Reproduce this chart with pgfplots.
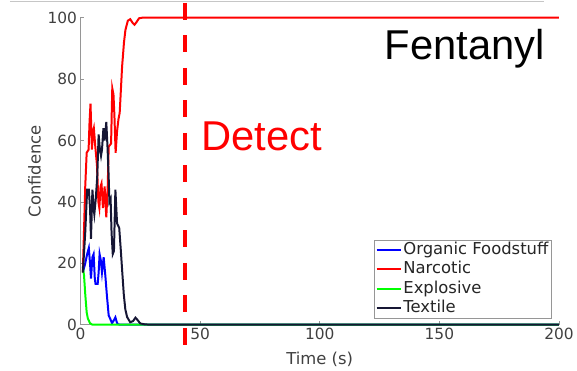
\documentclass[border=0pt]{standalone}
\usepackage{fontspec}
\setmainfont{DejaVu Sans}
\newfontfamily\arialfont{Liberation Sans}
\usepackage{pgfplots}
\pgfplotsset{compat=1.18}
\definecolor{textile}{RGB}{22,22,52}
\definecolor{axgray}{RGB}{150,150,150}
\definecolor{lblgray}{RGB}{64,64,64}
\begin{document}
\begin{tikzpicture}
\begin{axis}[
  at={(0,0)}, anchor=south west,
  scale only axis, width=480bp, height=308bp,
  xmin=0, xmax=200, ymin=0, ymax=100,
  clip=false,
  axis x line*=bottom, axis y line*=left,
  axis line style={axgray, line width=0.6bp},
  tick align=inside, major tick length=4bp,
  tick style={axgray, line width=0.6bp},
  xtick={0,50,100,150,200}, ytick={0,20,40,60,80,100},
  /pgf/number format/assume math mode=true,
  ticklabel style={font=\fontsize{15.5}{18}\selectfont, text=lblgray},
  label style={font=\fontsize{16.5}{19}\selectfont, text=lblgray},
  xlabel={Time (s)}, ylabel={Confidence},
  xlabel style={at={(axis description cs:0.5,-0.1136)}, anchor=center},
  ylabel style={at={(axis description cs:-0.0958,0.5)}, anchor=center},
  legend style={at={(1,0)}, anchor=south east, xshift=-8bp, yshift=6.5bp,
    draw=axgray, font=\fontsize{16.5}{19}\selectfont, text=black!85,
    inner xsep=1.5bp, inner ysep=1bp, row sep=2bp,
    nodes={inner sep=1bp, text height=12bp, text depth=3.5bp}},
  legend cell align=left,
  legend image code/.code={\draw[#1, line width=2bp] (0bp,0bp) -- (25bp,0bp);},
]
\addplot[blue, line width=2bp] coordinates {
(1.0,17) (2.0,20) (2.8,23) (3.5,25) (4.0,20) (4.4,15) (5.0,22) (5.5,23)
(6.0,15) (6.3,13.3) (7.2,13.3) (7.6,17) (8.0,23) (8.5,21) (9.0,17) (9.7,22)
(10.4,16) (11.0,10) (11.8,3) (12.4,2) (13.2,0.5) (14.0,1.5) (14.6,2.4)
(15.2,0.8) (15.6,0.2) (16.5,0) (200,0)};
\addlegendentry{Organic Foodstuff}
\addplot[red, line width=2bp] coordinates {
(1.0,17) (2.0,45) (2.6,56) (3.4,57) (3.8,66) (4.2,72) (4.8,57) (5.3,63)
(5.6,64) (6.2,58) (6.9,52) (7.5,40) (7.9,38) (8.4,45) (8.8,46) (9.4,38)
(10.1,45) (10.8,35) (11.4,45) (11.8,58) (12.8,59) (13.3,77) (13.8,75)
(14.2,68) (14.7,56) (15.3,63) (15.9,67) (16.4,69) (17.4,84) (18.2,92)
(18.8,96) (19.8,99) (20.8,99.5) (21.8,98.3) (22.6,97.7) (23.4,98.5)
(24.5,99.8) (26,100) (200,100)};
\addlegendentry{Narcotic}
\addplot[green, line width=2bp] coordinates {
(1.0,19) (1.5,16) (2.0,10) (2.6,4) (3.1,2) (4.0,0.5) (5.0,0) (200,0)};
\addlegendentry{Explosive}
\addplot[textile, line width=2bp] coordinates {
(1.0,17) (2.0,30) (2.8,44) (3.5,44) (4.0,38) (4.4,28) (5.0,44) (5.5,38)
(5.8,36) (6.4,41) (7.0,48) (7.6,62) (8.0,58) (8.6,55) (9.0,57) (9.6,64)
(10.1,60) (10.8,66) (11.3,58) (11.8,48) (12.1,40) (12.6,41) (13.0,30)
(13.5,23) (14.0,24) (14.6,44) (15.3,33) (16.2,31.5) (16.8,25) (17.4,18)
(18.1,10) (18.75,5) (19.5,2.5) (20.8,0.8) (22.0,1.2) (23.0,2.3) (23.8,1.6)
(25.0,0.4) (27,0.1) (30,0) (200,0)};
\addlegendentry{Textile}
\draw[red, line width=4bp, dash pattern=on 17bp off 15.6bp]
  (axis cs:43.75,104.8) -- (axis cs:43.75,-6.6);
\node[anchor=base west, inner sep=0pt, font=\arialfont\fontsize{42}{48}\selectfont]
  at (axis cs:127,86.3) {Fentanyl};
\node[anchor=base west, inner sep=0pt, text=red, font=\arialfont\fontsize{42}{48}\selectfont]
  at (axis cs:50.5,56.8) {Detect};
\end{axis}
\draw[gray!45, line width=0.8bp] (-70.7bp,324.7bp) -- (465.3bp,324.7bp);
\useasboundingbox (-80.7bp,-44.3bp) rectangle (496.3bp,325.7bp);
\end{tikzpicture}
\end{document}
